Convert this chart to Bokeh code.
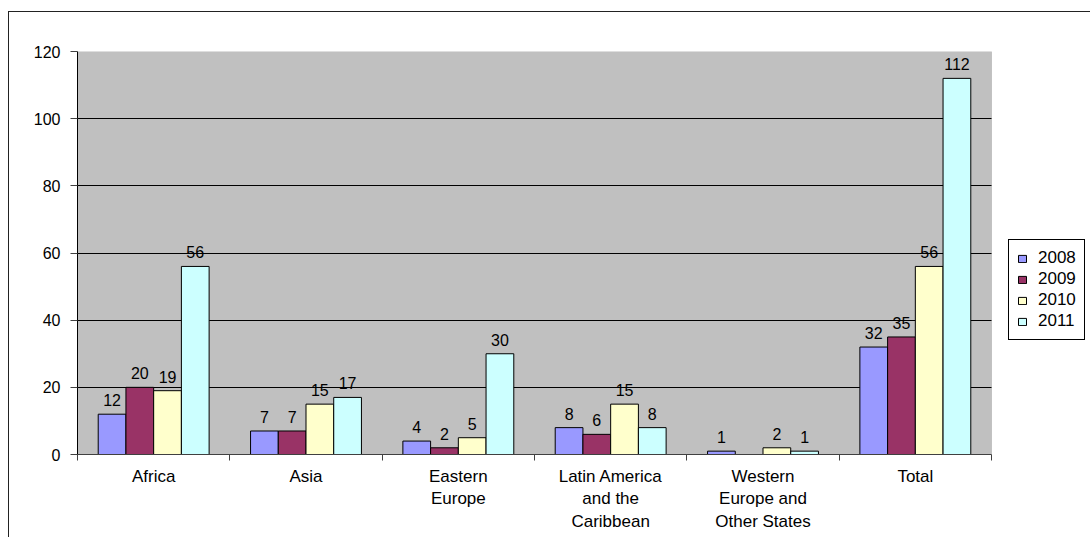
from bokeh.plotting import figure
from bokeh.models import ColumnDataSource, Range1d, FixedTicker, Legend, LegendItem, BoxAnnotation
from bokeh.core.properties import value
from bokeh.embed import file_html
from bokeh.resources import INLINE

categories = ["Africa", "Asia", "Eastern\nEurope", "Latin America\nand the\nCaribbean",
              "Western\nEurope and\nOther States", "Total"]
years = ["2008", "2009", "2010", "2011"]
v2008 = [12, 7, 4, 8, 1, 32]
v2009 = [20, 7, 2, 6, 0, 35]
v2010 = [19, 15, 5, 15, 2, 56]
v2011 = [56, 17, 30, 8, 1, 112]
series = [v2008, v2009, v2010, v2011]
colors = ["#9999FF", "#993366", "#FFFFCC", "#CCFFFF"]
y_ticks = [0, 20, 40, 60, 80, 100, 120]
grid_ticks = [20, 40, 60, 80, 100]

FONT = "Liberation Sans"

# layout: canvas x 9..1091, plot area x 77..991 ; frame extends to canvas edge
W = 1082
n = len(categories)
FRAME_L, PLOT_R, CANVAS_R = 77, 991, 1091
x_end = n * (CANVAS_R - FRAME_L) / (PLOT_R - FRAME_L)

p = figure(width=W, height=526, output_backend="svg", toolbar_location=None,
           x_range=Range1d(0, x_end), y_range=Range1d(0, 120),
           min_border_left=68, min_border_right=0, min_border_top=39, min_border_bottom=84)
p.margin = (11, 0, 0, 8)
p.styles = {"border-left": "1px solid #222222", "border-top": "1px solid #222222"}
p.background_fill_color = "white"
p.border_fill_color = "white"
p.outline_line_color = None

# plot area background
bg = BoxAnnotation(left=0, right=n, bottom=0, top=120, fill_color="#C0C0C0", fill_alpha=1,
                   line_color="#808080", line_width=1, level="image")
p.add_layout(bg)

# grid
p.xgrid.visible = False
p.ygrid.ticker = FixedTicker(ticks=grid_ticks)
p.ygrid.grid_line_color = "black"
p.ygrid.grid_line_width = 1
p.ygrid.cross_bounds = (0, n)
p.ygrid.level = "underlay"

# y axis
p.yaxis.ticker = FixedTicker(ticks=y_ticks)
p.yaxis.axis_line_color = "black"
p.yaxis.major_tick_line_color = "#404040"
p.yaxis.major_tick_out = 7
p.yaxis.major_tick_in = 0
p.yaxis.minor_tick_line_color = None
p.yaxis.major_label_text_font = FONT
p.yaxis.major_label_text_font_size = "16px"
p.yaxis.major_label_text_color = "black"
p.yaxis.major_label_standoff = 10

# x axis: labels at centers, ticks at boundaries
centers = [i + 0.5 for i in range(n)]
bounds = list(range(n + 1))
p.xaxis.ticker = FixedTicker(ticks=centers, minor_ticks=bounds)
p.xaxis.bounds = (0, n)
p.xaxis.major_label_overrides = {c: lab for c, lab in zip(centers, categories)}
p.xaxis.axis_line_color = "#404040"
p.xaxis.major_tick_line_color = None
p.xaxis.minor_tick_line_color = "#404040"
p.xaxis.minor_tick_out = 6
p.xaxis.minor_tick_in = 0
p.xaxis.major_label_text_font = FONT
p.xaxis.major_label_text_font_size = "17px"
p.xaxis.major_label_text_color = "black"
p.xaxis.major_label_standoff = 6

bw = 0.182
offsets = [-1.5 * bw, -0.5 * bw, 0.5 * bw, 1.5 * bw]
items = []
for yr, vals, col, off in zip(years, series, colors, offsets):
    xs = [c + off for c in centers]
    src = ColumnDataSource(dict(x=xs, top=vals))
    r = p.vbar(x="x", top="top", width=bw, bottom=0, source=src,
               fill_color=col, line_color="black", line_width=1)
    items.append(LegendItem(label=yr, renderers=[r]))
    lx = [x for x, v in zip(xs, vals) if v > 0]
    lv = [v for v in vals if v > 0]
    lsrc = ColumnDataSource(dict(x=lx, y=lv, t=[str(v) for v in lv]))
    p.text(x="x", y="y", text="t", source=lsrc, text_align="center",
           text_baseline="bottom", y_offset=-8, text_font=value(FONT),
           text_font_size="16px", text_color="black")

legend = Legend(items=items, location=(1008 - FRAME_L, 114), orientation="vertical",
                glyph_width=10, glyph_height=9, label_height=20, spacing=1,
                padding=8, margin=0, label_standoff=11,
                label_text_font=FONT, label_text_font_size="17px", label_text_color="black",
                border_line_color="black", border_line_width=1, border_line_alpha=1,
                background_fill_color="white", background_fill_alpha=1)
p.add_layout(legend, "center")

open("out.html", "w").write(file_html(p, INLINE))
